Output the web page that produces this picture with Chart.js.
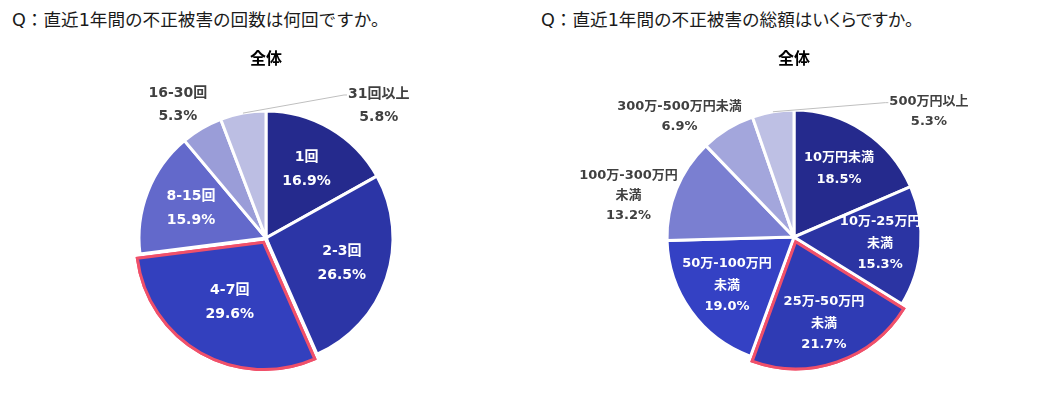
<!DOCTYPE html>
<html><head><meta charset="utf-8">
<script src="https://cdn.jsdelivr.net/npm/chart.js@4.4.1/dist/chart.umd.min.js"></script>
<style>
html,body{margin:0;padding:0;background:#fff;}
body{width:1043px;height:398px;overflow:hidden;position:relative;font-family:"DejaVu Sans","Noto Sans CJK JP",sans-serif;}
.q{position:absolute;top:7px;font-size:17.6px;color:#1a1a1a;white-space:nowrap;line-height:26px;}
.box{position:absolute;top:38px;height:360px;}
</style></head>
<body>
<div class="q" style="left:12px">Q：直近1年間の不正被害の回数は何回ですか。</div>
<div class="q" style="left:541px">Q：直近1年間の不正被害の総額<span style="font-feature-settings:'palt'">はいくらですか</span>。</div>
<div class="box" style="left:0;width:521px"><canvas id="c1"></canvas></div>
<div class="box" style="left:521px;width:522px"><canvas id="c2"></canvas></div>
<script>
// ---- data ----
const chartTitle = '全体';
const countCategories = ['1回', '2-3回', '4-7回', '8-15回', '16-30回', '31回以上'];
const countValues = [16.9, 26.5, 29.6, 15.9, 5.3, 5.8];
const countLabelLines = [['1回'], ['2-3回'], ['4-7回'], ['8-15回'], ['16-30回'], ['31回以上']];

const amountCategories = ['10万円未満', '10万-25万円未満', '25万-50万円未満', '50万-100万円未満', '100万-300万円未満', '300万-500万円未満', '500万円以上'];
const amountValues = [18.5, 15.3, 21.7, 19.0, 13.2, 6.9, 5.3];
const amountLabelLines = [['10万円未満'], ['10万-25万円', '未満'], ['25万-50万円', '未満'], ['50万-100万円', '未満'], ['100万-300万円', '未満'], ['300万-500万円未満'], ['500万円以上']];

// ---- styles ----
const countColors = ['#252A8D', '#2C35A6', '#3340BE', '#6369CB', '#9A9DD8', '#BCBEE3'];
const amountColors = ['#252A8D', '#2B34A3', '#2F3BB4', '#3441C4', '#7A7FD1', '#A3A6DC', '#BEC0E4'];
const highlightColor = '#F0506A';

// label placement (style): dist = fraction of radius along slice bisector; angle (deg, clockwise from top) overrides bisector
const countPlacement = [
  {dist: 0.63}, {dist: 0.63}, {dist: 0.54}, {dist: 0.635},
  {angle: 326.4, dist: 1.255, outside: true},
  {angle: 40.4, dist: 1.37, outside: true, leader: true}
];
const amountPlacement = [
  {dist: 0.645}, {dist: 0.68}, {dist: 0.68}, {dist: 0.65},
  {angle: 284.2, dist: 1.344, outside: true},
  {angle: 316.5, dist: 1.31, outside: true},
  {angle: 47.1, dist: 1.45, outside: true, leader: true}
];

const pieLabels = {
  id: 'pieLabels',
  afterDatasetsDraw(chart, args, opts) {
    const ctx = chart.ctx;
    const meta = chart.getDatasetMeta(0);
    const values = chart.data.datasets[0].data;
    if (opts.highlight != null) meta.data[opts.highlight].draw(ctx);
    meta.data.forEach((arc, i) => {
      const p = arc.getProps(['x', 'y', 'startAngle', 'endAngle', 'outerRadius'], true);
      const mid = (p.startAngle + p.endAngle) / 2;
      const off = (arc.options.offset || 0) / 4;
      const cx = p.x + Math.cos(mid) * off, cy = p.y + Math.sin(mid) * off;
      const pl = opts.placement[i] || {};
      const ang = pl.angle != null ? (pl.angle - 90) * Math.PI / 180 : mid;
      const d = (pl.dist != null ? pl.dist : 0.63) * p.outerRadius;
      const lx = cx + Math.cos(ang) * d, ly = cy + Math.sin(ang) * d;
      const lines = opts.lines[i].concat([values[i].toFixed(1) + '%']);
      const lh = pl.outside ? opts.outLineHeight : opts.lineHeight;
      ctx.save();
      ctx.font = 'bold ' + opts.fontSize + 'px "DejaVu Sans","Noto Sans CJK JP",sans-serif';
      ctx.textAlign = 'center';
      ctx.textBaseline = 'middle';
      ctx.fillStyle = pl.outside ? '#404040' : '#ffffff';
      const y0 = ly - (lines.length - 1) * lh / 2;
      lines.forEach((t, k) => ctx.fillText(t, lx, y0 + k * lh));
      if (pl.leader) {
        const w = ctx.measureText(lines[0]).width;
        const sx = cx + Math.cos(mid) * p.outerRadius, sy = cy + Math.sin(mid) * p.outerRadius;
        const ex = lx - w / 2 - 4, ey = y0 + 1;
        ctx.strokeStyle = '#BFBFBF';
        ctx.lineWidth = 1;
        ctx.beginPath();
        ctx.moveTo(sx, sy);
        ctx.lineTo(ex, ey);
        ctx.lineTo(ex + 3, ey);
        ctx.stroke();
      }
      ctx.restore();
    });
  }
};

function makePie(id, cats, vals, colors, hi, lines, placement, radius, pad, fontSize, lineHeight, outLineHeight) {
  const borderColors = cats.map((c, i) => i === hi ? highlightColor : '#ffffff');
  const offsets = cats.map((c, i) => i === hi ? 20 : 0);
  new Chart(document.getElementById(id), {
    type: 'pie',
    data: {
      labels: cats,
      datasets: [{
        data: vals,
        backgroundColor: colors,
        borderColor: borderColors,
        borderWidth: 3,
        borderJoinStyle: 'miter',
        offset: offsets,
        radius: radius
      }]
    },
    options: {
      responsive: true,
      maintainAspectRatio: false,
      animation: false,
      events: [],
      layout: {padding: pad},
      plugins: {
        legend: {display: false},
        tooltip: {enabled: false},
        title: {
          display: true,
          text: chartTitle,
          color: '#000000',
          font: {family: '"DejaVu Sans","Noto Sans CJK JP",sans-serif', size: 16, weight: 'bold'},
          padding: {top: 12.4, bottom: 8.4}
        },
        pieLabels: {highlight: hi, lines: lines, placement: placement, fontSize: fontSize, lineHeight: lineHeight, outLineHeight: outLineHeight}
      }
    },
    plugins: [pieLabels]
  });
}

makePie('c1', countCategories, countValues, countColors, 2, countLabelLines, countPlacement, 127,
  {left: 11, right: 0, top: 0, bottom: 0}, 14, 24, 23);
makePie('c2', amountCategories, amountValues, amountColors, 2, amountLabelLines, amountPlacement, 127,
  {left: 24, right: 0, top: 0, bottom: 2}, 13, 21.5, 20);
</script>
</body></html>
